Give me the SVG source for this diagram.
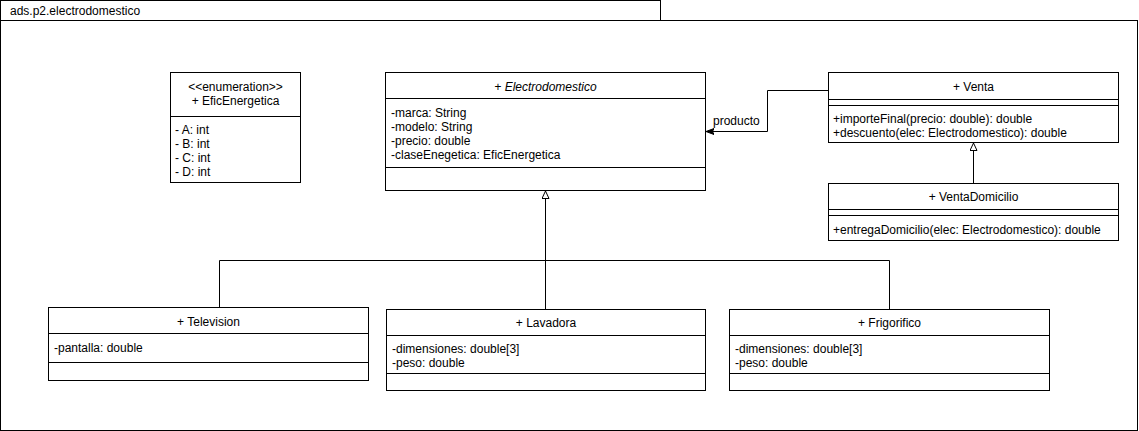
<svg xmlns="http://www.w3.org/2000/svg" width="1139" height="431" viewBox="0 0 1139 431">
<style>
text{font-family:"Liberation Sans",Arial,sans-serif;font-size:12px;fill:#000}
.c{text-anchor:middle}
.box{fill:#fff;stroke:#000;stroke-width:1}
.div{stroke:#000;stroke-width:1;fill:none}
.ln{stroke:#000;stroke-width:1;fill:none}
</style>
<defs>
<marker id="tri" viewBox="0 0 8 8" refX="8" refY="4" markerWidth="8" markerHeight="8" markerUnits="userSpaceOnUse" orient="auto">
<path d="M0.5,0.5 L8,4 L0.5,7.5 Z" fill="#fff" stroke="#000" stroke-width="1"/>
</marker>
<marker id="arr" viewBox="0 0 8 8" refX="8" refY="4" markerWidth="8" markerHeight="8" markerUnits="userSpaceOnUse" orient="auto">
<path d="M0,1 L8,4 L0,7 L1.5,4 Z" fill="#000" stroke="#000" stroke-width="1"/>
</marker>
</defs>
<g id="package">
<rect x="0.5" y="0.5" width="660" height="20" class="box"/>
<rect x="0.5" y="20.5" width="1137" height="410" class="box"/>
<text x="10" y="15">ads.p2.electrodomestico</text>
</g>
<g id="connectors">
<polyline class="ln" points="828,90.5 767.5,90.5 767.5,131.5 706,131.5" marker-end="url(#arr)"/>
<text x="713" y="125">producto</text>
<polyline class="ln" points="973.5,183 973.5,143" marker-end="url(#tri)"/>
<polyline class="ln" points="545.5,309 545.5,191" marker-end="url(#tri)"/>
<polyline class="ln" points="219.5,307 219.5,260.5 889.5,260.5 889.5,309"/>
</g>
<g id="EficEnergetica">
<rect x="170.5" y="72.5" width="130" height="110" class="box"/>
<line x1="170.5" y1="116.5" x2="300.5" y2="116.5" class="div"/>
<text x="235.5" y="91" class="c">&lt;&lt;enumeration&gt;&gt;</text>
<text x="235.5" y="105" class="c">+ EficEnergetica</text>
<text x="175" y="134">- A: int</text>
<text x="175" y="148">- B: int</text>
<text x="175" y="162">- C: int</text>
<text x="175" y="176">- D: int</text>
</g>
<g id="Electrodomestico">
<rect x="385.5" y="72.5" width="320" height="118" class="box"/>
<line x1="385.5" y1="98.5" x2="705.5" y2="98.5" class="div"/>
<line x1="385.5" y1="167.5" x2="705.5" y2="167.5" class="div"/>
<text x="545.5" y="91" class="c" font-style="italic">+ Electrodomestico</text>
<text x="391" y="117">-marca: String</text>
<text x="391" y="131">-modelo: String</text>
<text x="391" y="145">-precio: double</text>
<text x="391" y="159">-claseEnegetica: EficEnergetica</text>
</g>
<g id="Venta">
<rect x="828.5" y="72.5" width="290" height="70" class="box"/>
<line x1="828.5" y1="99.5" x2="1118.5" y2="99.5" class="div"/>
<line x1="828.5" y1="105.5" x2="1118.5" y2="105.5" class="div"/>
<text x="973.5" y="91" class="c">+ Venta</text>
<text x="833" y="123">+importeFinal(precio: double): double</text>
<text x="833" y="137">+descuento(elec: Electrodomestico): double</text>
</g>
<g id="VentaDomicilio">
<rect x="828.5" y="183.5" width="290" height="57" class="box"/>
<line x1="828.5" y1="209.5" x2="1118.5" y2="209.5" class="div"/>
<line x1="828.5" y1="215.5" x2="1118.5" y2="215.5" class="div"/>
<text x="973.5" y="201" class="c">+ VentaDomicilio</text>
<text x="833" y="234">+entregaDomicilio(elec: Electrodomestico): double</text>
</g>
<g id="Television">
<rect x="48.5" y="307.5" width="320" height="73" class="box"/>
<line x1="48.5" y1="333.5" x2="368.5" y2="333.5" class="div"/>
<line x1="48.5" y1="362.5" x2="368.5" y2="362.5" class="div"/>
<text x="208.5" y="326" class="c">+ Television</text>
<text x="54" y="352">-pantalla: double</text>
</g>
<g id="Lavadora">
<rect x="386.5" y="309.5" width="319" height="81" class="box"/>
<line x1="386.5" y1="335.5" x2="705.5" y2="335.5" class="div"/>
<line x1="386.5" y1="373.5" x2="705.5" y2="373.5" class="div"/>
<text x="546" y="327" class="c">+ Lavadora</text>
<text x="392" y="353">-dimensiones: double[3]</text>
<text x="392" y="367">-peso: double</text>
</g>
<g id="Frigorifico">
<rect x="729.5" y="309.5" width="320" height="81" class="box"/>
<line x1="729.5" y1="335.5" x2="1049.5" y2="335.5" class="div"/>
<line x1="729.5" y1="373.5" x2="1049.5" y2="373.5" class="div"/>
<text x="889.5" y="327" class="c">+ Frigorifico</text>
<text x="735" y="353">-dimensiones: double[3]</text>
<text x="735" y="367">-peso: double</text>
</g>
</svg>
